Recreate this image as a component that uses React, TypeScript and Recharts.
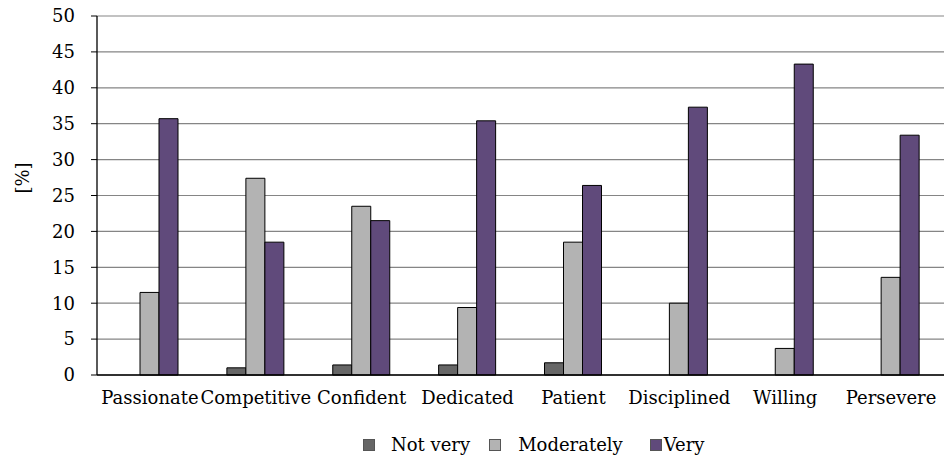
import React from "react";
import { BarChart, Bar, XAxis, YAxis, CartesianGrid, Legend } from "recharts";

const traits = ["Passionate", "Competitive", "Confident", "Dedicated", "Patient", "Disciplined", "Willing", "Persevere"];
const notVery = [null, 1.0, 1.4, 1.4, 1.7, null, null, null];
const moderately = [11.5, 27.4, 23.5, 9.4, 18.5, 10.0, 3.7, 13.6];
const very = [35.7, 18.5, 21.5, 35.4, 26.4, 37.3, 43.3, 33.4];
const yTicks = [0, 5, 10, 15, 20, 25, 30, 35, 40, 45, 50];
const seriesOrder = ["Not very", "Moderately", "Very"];

const data = traits.map((name, i) => ({
  name,
  notVery: notVery[i],
  moderately: moderately[i],
  very: very[i],
}));

const FONT = "'DejaVu Serif'";
const FONT_SIZE = 18;

// legend item spacing (gap before square, gap between square and text)
const legendGaps = [
  { before: 363, inner: 16 },
  { before: 19, inner: 17 },
  { before: 27, inner: 2 },
];

function LegendRow({ payload }: any) {
  const items = [...(payload || [])].sort(
    (a: any, b: any) => seriesOrder.indexOf(a.value) - seriesOrder.indexOf(b.value)
  );
  return (
    <div style={{ height: 26, display: "flex", alignItems: "center", fontFamily: FONT, fontSize: FONT_SIZE, color: "#000" }}>
      {items.map((p: any, i: number) => (
        <div key={p.value} style={{ display: "flex", alignItems: "center", marginLeft: legendGaps[i].before }}>
          <span
            style={{
              width: 12,
              height: 12,
              boxSizing: "border-box",
              background: p.color,
              border: "1px solid #555",
              marginRight: legendGaps[i].inner,
              display: "inline-block",
            }}
          />
          <span style={{ lineHeight: "26px" }}>{p.value}</span>
        </div>
      ))}
    </div>
  );
}

function YLabel() {
  return (
    <text
      x={22}
      y={178}
      transform="rotate(-90 22 178)"
      textAnchor="middle"
      dominantBaseline="central"
      style={{ fontFamily: FONT, fontSize: FONT_SIZE }}
      fill="#000"
    >
      [%]
    </text>
  );
}

const tickStyle = { fill: "#000", fontSize: FONT_SIZE, fontFamily: FONT, style: { fontFamily: FONT } };

export default function App() {
  return (
    <div style={{ position: "absolute", left: 0, top: 0, width: 945, height: 462, background: "#fff", fontFamily: FONT }}>
      <BarChart
        width={945}
        height={462}
        data={data}
        margin={{ top: 16, right: 1, bottom: 4, left: 0 }}
        barSize={19}
        barGap={0}
        style={{ fontFamily: FONT }}
      >
        <CartesianGrid vertical={false} stroke="#858585" strokeWidth={1.2} />
        <XAxis
          dataKey="name"
          height={57}
          tickLine={false}
          tickSize={0}
          tickMargin={16}
          axisLine={{ stroke: "#000", strokeWidth: 1.3 }}
          tick={tickStyle}
          interval={0}
        />
        <YAxis
          width={97}
          domain={[0, 50]}
          ticks={yTicks}
          interval={0}
          tickSize={6}
          tickMargin={16}
          axisLine={{ stroke: "#000", strokeWidth: 1.3 }}
          tickLine={{ stroke: "#000" }}
          tick={tickStyle}
          label={{ content: () => <YLabel /> }}
        />
        <Legend verticalAlign="bottom" align="left" itemSorter={null} content={<LegendRow />} />
        <Bar dataKey="notVery" name="Not very" fill="#666666" stroke="#000" strokeWidth={1} isAnimationActive={false} />
        <Bar dataKey="moderately" name="Moderately" fill="#b3b3b3" stroke="#000" strokeWidth={1} isAnimationActive={false} />
        <Bar dataKey="very" name="Very" fill="#604a7b" stroke="#000" strokeWidth={1} isAnimationActive={false} />
      </BarChart>
    </div>
  );
}
